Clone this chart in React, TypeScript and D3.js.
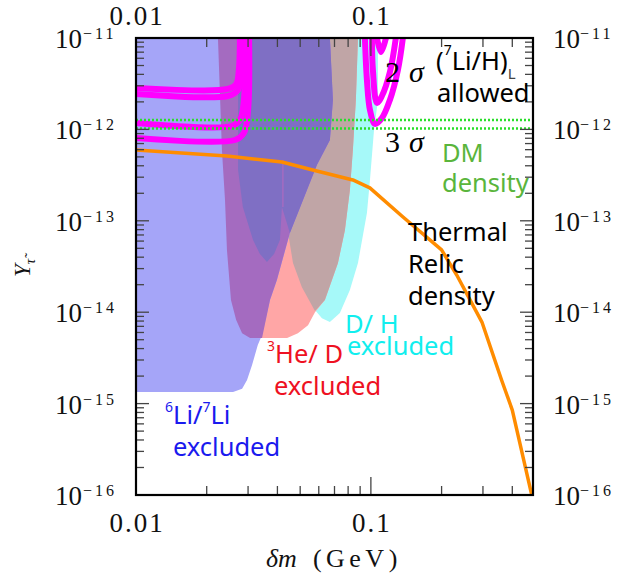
import React from 'react';
import * as d3 from 'd3';

type Pt = [number, number];

// axis
const xDomain: Pt = [0.01, 0.49];
const yDomain: Pt = [1e-16, 1e-11];
const xTickLabels = ['0.01', '0.1'];
const xLabelValues = [0.01, 0.1];
const yExponents = [-11, -12, -13, -14, -15, -16];

// D/H excluded (cyan)
const dhRegion: Pt[] = [
  [0.0499, 1e-11], [0.1072, 1e-11], [0.1072, 2.1e-12], [0.1031, 9.8e-13], [0.0991, 2.8e-13],
  [0.0962, 1.22e-13], [0.0881, 3.45e-14], [0.0814, 1.75e-14], [0.0738, 9.8e-15], [0.0669, 7.8e-15],
  [0.0619, 8.6e-15], [0.0578, 1.06e-14], [0.0508, 1.89e-14], [0.0466, 3.45e-14], [0.0444, 7.4e-14],
  [0.0475, 6e-13],
];

// 3He/D excluded (salmon)
const he3Region: Pt[] = [
  [0.02233, 1e-11], [0.02322, 5.96e-13], [0.02393, 1.69e-13], [0.02439, 4.8e-14], [0.02537, 1.36e-14],
  [0.0267, 8.2e-15], [0.0283, 5.9e-15], [0.0306, 5.22e-15], [0.044, 5.22e-15], [0.0489, 5.9e-15],
  [0.054, 7.2e-15], [0.0578, 1.0e-14], [0.0637, 1.36e-14], [0.0724, 3.45e-14], [0.0775, 7.9e-14],
  [0.0814, 2.17e-13], [0.0838, 5.96e-13], [0.0863, 2.1e-12], [0.0881, 1e-11],
];

// 3He/D and D/H together (brownish)
const he3DhOverlap: Pt[] = [
  [0.0499, 1e-11], [0.0475, 6e-13], [0.0444, 7.4e-14], [0.0466, 3.45e-14], [0.0508, 1.89e-14],
  [0.0578, 1.03e-14], [0.0637, 1.36e-14], [0.0724, 3.45e-14], [0.0775, 7.9e-14], [0.0814, 2.17e-13],
  [0.0838, 5.96e-13], [0.0863, 2.1e-12], [0.0881, 1e-11],
];

// 6Li/7Li excluded (light blue)
const li6Region: Pt[] = [
  [0.01, 1e-11], [0.01, 1.34e-15], [0.0259, 1.34e-15], [0.0283, 1.45e-15], [0.0297, 1.81e-15],
  [0.0312, 2.64e-15], [0.033, 4.38e-15], [0.0344, 5.63e-15], [0.0372, 1.36e-14], [0.0398, 2.25e-14],
  [0.0452, 7.36e-14], [0.0589, 4.08e-13], [0.0669, 7.66e-13], [0.0689, 2.1e-12], [0.0669, 1e-11],
];

// 6Li/7Li and 3He/D together (purple)
const li6He3Overlap: Pt[] = [
  [0.02233, 1e-11], [0.02322, 5.96e-13], [0.02393, 1.69e-13], [0.02439, 4.8e-14], [0.02537, 1.36e-14],
  [0.0267, 8.2e-15], [0.0283, 5.9e-15], [0.0306, 5.22e-15], [0.0344, 5.22e-15], [0.0372, 1.36e-14],
  [0.0398, 2.25e-14], [0.0452, 7.36e-14], [0.0589, 4.08e-13], [0.0669, 7.66e-13], [0.0689, 2.1e-12],
  [0.0669, 1e-11],
];

// inner darker lobe
const darkLobe: Pt[] = [
  [0.0272, 1e-11], [0.0272, 3.6e-13], [0.0285, 1.42e-13], [0.0315, 6.17e-14], [0.0337, 4.34e-14],
  [0.0361, 3.54e-14], [0.0387, 4.34e-14], [0.041, 6.17e-14], [0.0418, 1.42e-13], [0.0452, 7.36e-14],
  [0.0589, 4.08e-13], [0.0669, 7.66e-13], [0.0689, 2.1e-12], [0.0669, 1e-11],
];
const darkSeam: Pt[] = [[0.0422, 4.63e-13], [0.0422, 1.42e-13]];

// (7Li/H) allowed contours
const li7Contours: Pt[][] = [
  [[0.01, 2.84e-12], [0.0246, 2.77e-12], [0.0267, 3.14e-12], [0.0274, 4.46e-12], [0.0277, 1e-11]],
  [[0.01, 2.44e-12], [0.0246, 2.32e-12], [0.0272, 2.7e-12], [0.028, 3.94e-12], [0.0283, 1e-11]],
  [[0.01, 1.175e-12], [0.02565, 1.09e-12], [0.0277, 1.27e-12], [0.0288, 2.1e-12], [0.0291, 1e-11]],
  [[0.01, 8.05e-13], [0.0264, 7.66e-13], [0.0288, 9.14e-13], [0.03, 1.63e-12], [0.0303, 1e-11]],
  [[0.0943, 1e-11], [0.0962, 3.47e-12], [0.0991, 1.63e-12], [0.1041, 1.15e-12], [0.1114, 1.33e-12],
    [0.1205, 2.1e-12], [0.1303, 4.46e-12], [0.1368, 1e-11]],
  [[0.101, 1e-11], [0.102, 4.46e-12], [0.1062, 1.95e-12], [0.1114, 2.32e-12], [0.1205, 4.25e-12],
    [0.1277, 1e-11]],
  [[0.1062, 1e-11], [0.1104, 7.03e-12], [0.1159, 1e-11]],
];

// DM density band
const dmDensity = [1.27e-12, 1.02e-12];

// thermal relic density
const thermalRelic: Pt[] = [
  [0.01, 5.96e-13], [0.0244, 5.12e-13], [0.0418, 4.4e-13], [0.0566, 3.6e-13], [0.0838, 2.8e-13],
  [0.099, 2.29e-13], [0.137, 1.1e-13], [0.2, 4.8e-14], [0.232, 2.55e-14], [0.297, 7.8e-15],
  [0.36, 1.81e-15], [0.4, 8.5e-16], [0.484, 1e-16],
];

const W = 622;
const H = 583;
const left = 136, right = 533, top = 38, bottom = 495;

const x = d3.scaleLog().domain(xDomain).range([left, right]);
const y = d3.scaleLog().domain(yDomain).range([bottom, top]);

const area = d3.line<Pt>().x(d => x(d[0])).y(d => y(d[1])).curve(d3.curveLinearClosed);
const smooth = d3.line<Pt>().x(d => x(d[0])).y(d => y(d[1])).curve(d3.curveCatmullRom.alpha(0.5));
const straight = d3.line<Pt>().x(d => x(d[0])).y(d => y(d[1]));

const isMajor = (v: number) => Math.abs(Math.log10(v) - Math.round(Math.log10(v))) < 1e-6;

const serif = '"Liberation Serif", "DejaVu Serif", serif';
const sans = '"Noto Sans", "Open Sans", sans-serif';

export default function App() {
  const xTicks = x.ticks().filter(v => v > xDomain[0] * 1.001 && v < xDomain[1]);
  const yTicks = y.ticks().filter(v => v > yDomain[0] * 1.001 && v < yDomain[1] * 0.999);

  return (
    <svg width={W} height={H} style={{ position: 'absolute', left: 0, top: 0, background: '#fff' }}>
      <defs>
        <clipPath id="plot">
          <rect x={left} y={top} width={right - left} height={bottom - top} />
        </clipPath>
      </defs>

      <g clipPath="url(#plot)">
        <path d={area(dhRegion) ?? ''} fill="#a6f9f9" />
        <path d={area(he3Region) ?? ''} fill="#ffa6a6" />
        <path d={area(he3DhOverlap) ?? ''} fill="#c0a5a6" />
        <path d={area(li6Region) ?? ''} fill="#a5a5f8" />
        <path d={area(li6He3Overlap) ?? ''} fill="#a46bc0" />
        <path d={area(darkLobe) ?? ''} fill="#7f6fc4" />
        <path d={straight(darkSeam) ?? ''} stroke="#a46bc0" strokeWidth={1.5} fill="none" />

        {li7Contours.map((c, i) => (
          <path key={i} d={smooth(c) ?? ''} fill="none" stroke="#ff00ff" strokeWidth={6} />
        ))}

        {dmDensity.map((v, i) => (
          <line key={i} x1={left} x2={right} y1={y(v)} y2={y(v)} stroke="#2ade2a"
            strokeWidth={2.5} strokeDasharray="2 2" />
        ))}

        <path d={straight(thermalRelic) ?? ''} fill="none" stroke="#ff8c00" strokeWidth={3.5}
          strokeLinejoin="round" />
      </g>

      {/* ticks */}
      <g stroke="#444" strokeWidth={1.3}>
        {xTicks.map((v, i) => {
          const len = isMajor(v) ? 18 : 9;
          const px = x(v);
          return (
            <g key={i}>
              <line x1={px} x2={px} y1={bottom} y2={bottom - len} />
              <line x1={px} x2={px} y1={top} y2={top + len} />
            </g>
          );
        })}
        {yTicks.map((v, i) => {
          const len = isMajor(v) ? 13 : 8;
          const py = y(v);
          return (
            <g key={i}>
              <line x1={left} x2={left + len} y1={py} y2={py} />
              <line x1={right} x2={right - len} y1={py} y2={py} />
            </g>
          );
        })}
      </g>

      <rect x={left} y={top} width={right - left} height={bottom - top} fill="none" stroke="#000" strokeWidth={2.2} />

      {/* tick labels */}
      <g fontFamily={serif} fontSize={27} letterSpacing={2} textAnchor="middle" fill="#111">
        {xLabelValues.map((v, i) => (
          <g key={i}>
            <text x={x(v) + 1} y={25}>{xTickLabels[i]}</text>
            <text x={x(v) + 1} y={532}>{xTickLabels[i]}</text>
          </g>
        ))}
      </g>
      <g fontFamily={serif} fill="#111">
        {yExponents.map((e, i) => {
          const py = y(Math.pow(10, e));
          return (
            <g key={i}>
              <text x={55} y={py + 10} fontSize={27}>10</text>
              <text x={83} y={py + 1} fontSize={16} letterSpacing={3}>{'\u2212' + Math.abs(e)}</text>
              <text x={553} y={py + 10} fontSize={27}>10</text>
              <text x={580} y={py + 1} fontSize={16} letterSpacing={3}>{'\u2212' + Math.abs(e)}</text>
            </g>
          );
        })}
      </g>

      {/* axis titles */}
      <text x={266} y={567} fontFamily={serif} fontSize={26} fill="#111">
        <tspan fontStyle="italic">{'\u03b4m'}</tspan>
        <tspan dx={16} letterSpacing={4.5}>(GeV)</tspan>
      </text>
      <text transform="translate(30,277) rotate(-90)" fontFamily={serif} fontSize={23} fill="#111">
        <tspan fontStyle="italic">Y</tspan>
        <tspan fontSize={15} dy={5} fontStyle="italic">{'\u03c4\u0303'}</tspan>
      </text>

      {/* annotations */}
      <g fontFamily={serif} fontSize={30} fill="#000">
        <text x={385} y={82}>2<tspan dx={9} fontStyle="italic">{'\u03c3'}</tspan></text>
        <text x={385} y={152}>3<tspan dx={9} fontStyle="italic">{'\u03c3'}</tspan></text>
      </g>
      <g fontFamily={sans} fontSize={25.5}>
        <text x={436} y={70} fill="#000">(<tspan fontSize={14} dy={-15}>7</tspan><tspan dy={15}>Li/H)</tspan><tspan fontSize={15} dy={9} fill="#444">L</tspan></text>
        <text x={437} y={102} fill="#000">allowed</text>

        <text x={442} y={162} fill="#5ab53c">DM</text>
        <text x={442} y={192} fill="#5ab53c">density</text>

        <text x={408} y={241} fill="#000">Thermal</text>
        <text x={408} y={273} fill="#000">Relic</text>
        <text x={408} y={305} fill="#000">density</text>

        <text x={345} y={333} fill="#11eeee">D/ H</text>
        <text x={347} y={355} fill="#11eeee">excluded</text>

        <text x={267} y={363} fill="#ee1122"><tspan fontSize={14} dy={-12}>3</tspan><tspan dy={12}>He/ D</tspan></text>
        <text x={274} y={395} fill="#ee1122">excluded</text>

        <text x={165} y={424} fill="#1a1aee"><tspan fontSize={14} dy={-12}>6</tspan><tspan dy={12}>Li/</tspan><tspan fontSize={14} dy={-12}>7</tspan><tspan dy={12}>Li</tspan></text>
        <text x={173} y={456} fill="#1a1aee">excluded</text>
      </g>
    </svg>
  );
}
